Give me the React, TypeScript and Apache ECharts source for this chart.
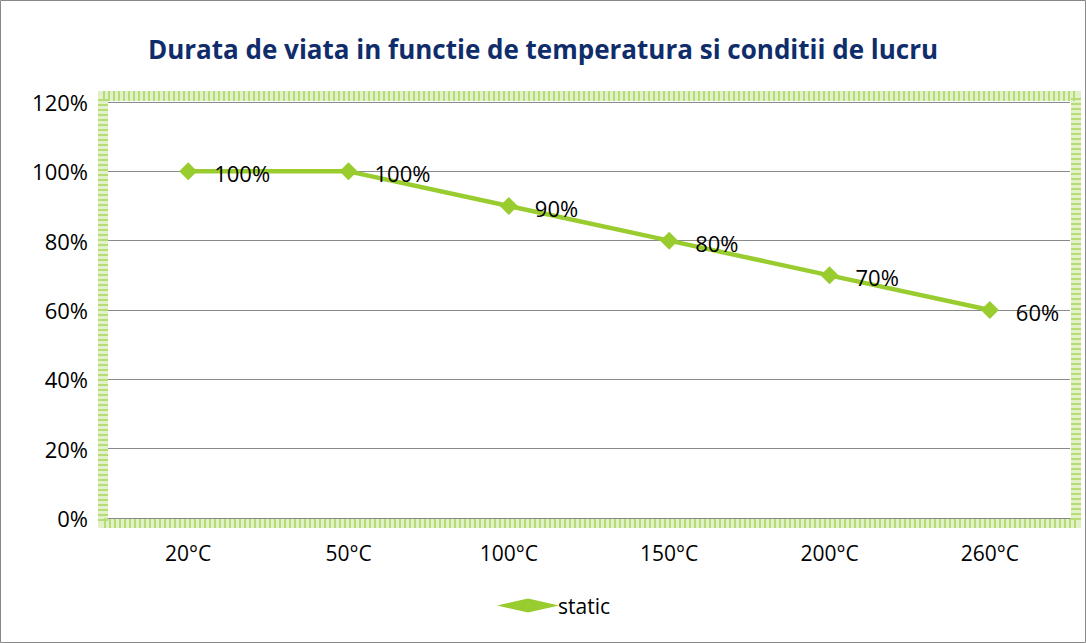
import React, { useEffect, useRef } from "react";
import * as echarts from "echarts";

const categories = ["20°C", "50°C", "100°C", "150°C", "200°C", "260°C"];
const staticValues = [100, 100, 90, 80, 70, 60];
const seriesName = "static";
const titleText = "Durata de viata in functie de temperatura si conditii de lucru";

export default function App() {
  const ref = useRef<HTMLDivElement>(null);
  useEffect(() => {
    if (!ref.current) return;
    const chart = echarts.init(ref.current, undefined, { renderer: "svg" });
    const gl = 108, gt = 102, gr = 1070, gb = 518;
    chart.setOption({
      animation: false,
      backgroundColor: "#ffffff",
      title: {
        text: titleText,
        left: "center",
        top: 31,
        textStyle: { color: "#0f2d6b", fontSize: 26, fontWeight: "bold", fontFamily: "Open Sans" },
      },
      grid: { left: gl, top: gt, right: 1086 - gr, bottom: 643 - gb },
      legend: {
        bottom: 22,
        left: 492,
        itemWidth: 62,
        itemHeight: 14,
        itemGap: 4,
        data: [{ name: seriesName, icon: "diamond" }],
        textStyle: { color: "#000", fontSize: 21, fontFamily: "Open Sans", padding: [0, 0, 0, -6] },
      },
      xAxis: {
        type: "category",
        data: categories,
        boundaryGap: true,
        axisLine: { lineStyle: { color: "#888", width: 1 } },
        axisTick: { show: false },
        axisLabel: { color: "#000", fontSize: 21, fontFamily: "Open Sans", margin: 24 },
      },
      yAxis: {
        type: "value",
        min: 0,
        max: 120,
        interval: 20,
        axisLine: { show: false },
        axisTick: { show: false },
        splitLine: { lineStyle: { color: "#8a8a8a", width: 1 } },
        axisLabel: { color: "#000", fontSize: 22, fontFamily: "Open Sans", margin: 20, formatter: "{value}%" },
      },
      series: [
        {
          name: seriesName,
          type: "line",
          data: staticValues,
          symbol: "diamond",
          symbolSize: 18,
          lineStyle: { color: "#99cc2e", width: 4.5 },
          itemStyle: { color: "#99cc2e" },
          label: {
            show: true,
            position: "right",
            distance: 17,
            offset: [0, 2],
            formatter: "{c}%",
            color: "#000",
            fontSize: 22,
            fontFamily: "Open Sans",
          },
        },
      ],
      graphic: [
        {
          type: "rect",
          silent: true,
          shape: { x: gl - 5, y: gt - 6, width: gr - gl + 11, height: gb - gt + 11 },
          style: { fill: "none", stroke: "#e3f1c9", lineWidth: 10 },
          z: 0,
        },
        {
          type: "rect",
          silent: true,
          shape: { x: gl - 5, y: gt - 6, width: gr - gl + 11, height: gb - gt + 11 },
          style: { fill: "none", stroke: "#b6dc78", lineWidth: 10, lineDash: [2, 3] },
          z: 0,
        },
        {
          type: "rect",
          silent: true,
          shape: { x: 0.5, y: 0.5, width: 1085, height: 642 },
          style: { fill: "none", stroke: "#888", lineWidth: 1 },
          z: 0,
        },
      ],
    });
    return () => chart.dispose();
  }, []);
  return (
    <div
      ref={ref}
      style={{ position: "absolute", left: 0, top: 0, width: 1086, height: 643 }}
    />
  );
}
